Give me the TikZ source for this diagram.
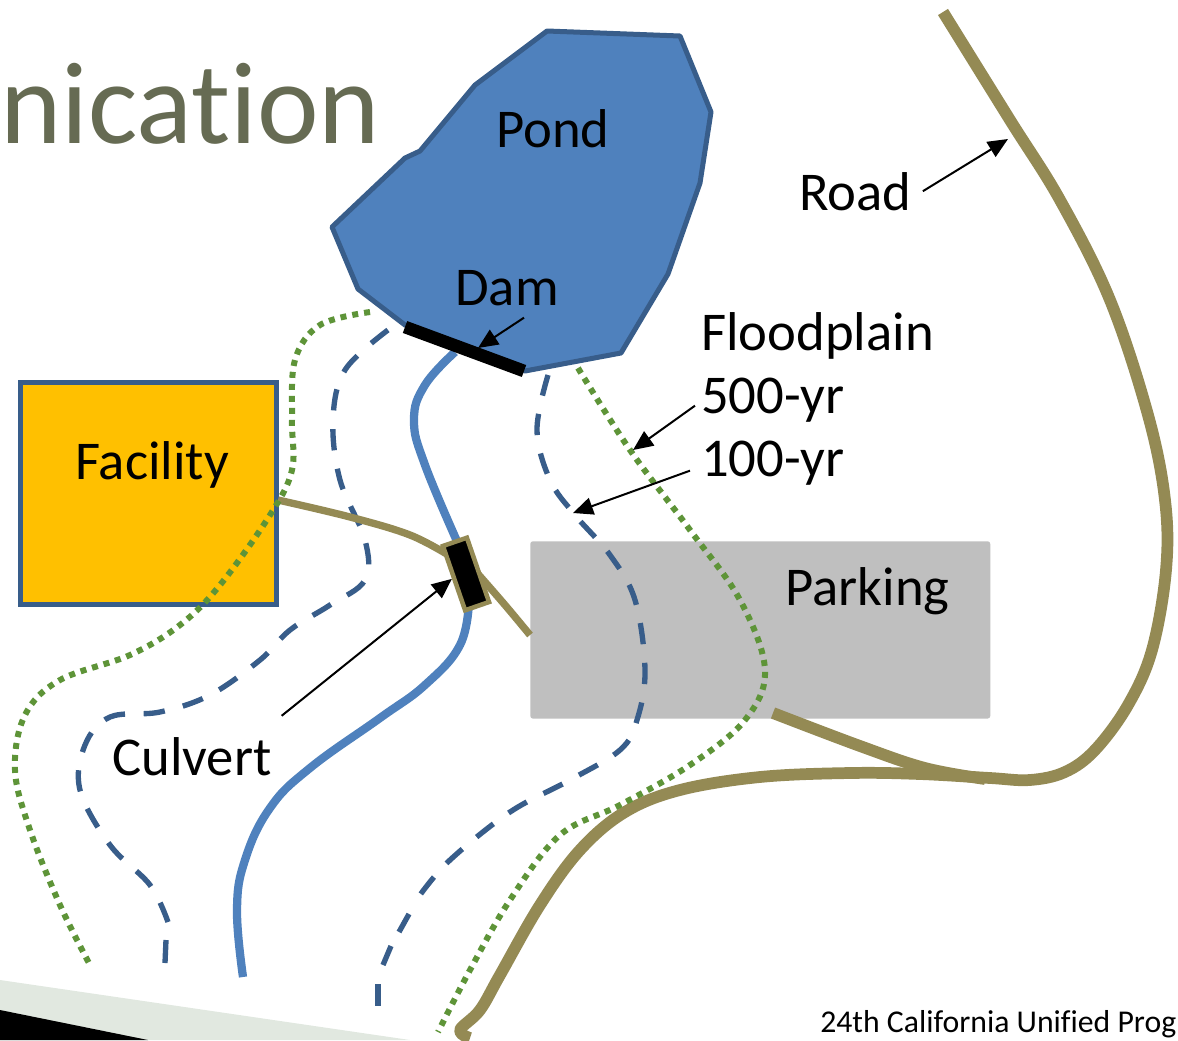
\documentclass[tikz,border=0pt]{standalone}
\usepackage{fontspec}
\setmainfont[Ligatures=NoCommon]{Carlito}
\usetikzlibrary{arrows.meta}
\definecolor{pondblue}{HTML}{4F81BD}
\definecolor{edgeblue}{HTML}{385D8A}
\definecolor{olive}{HTML}{948A54}
\definecolor{dotgreen}{HTML}{5E9438}
\definecolor{amber}{HTML}{FFC000}
\definecolor{parkgrey}{HTML}{BFBFBF}
\definecolor{titlegrey}{HTML}{666B53}
\definecolor{paleband}{HTML}{E1E8E0}
\tikzset{
  x=0.75pt,y=-0.75pt,
  lbl/.style={anchor=base west,inner sep=0pt,font=\fontsize{41}{46}\selectfont,text=black},
  road/.style={draw=olive,line width=8.8pt,line join=round},
  thinroad/.style={draw=olive,line width=5.5pt},
  stream/.style={draw=pondblue,line width=6.2pt},
  fp hundred/.style={draw=edgeblue,line width=4pt,dash pattern=on 16pt off 14pt},
  fp hundred end/.style={draw=edgeblue,line width=4pt},
  fp five/.style={draw=dotgreen,line width=4.5pt,dash pattern=on 4.5pt off 4.5pt},
  pointer/.style={draw=black,line width=1.5pt,-{Stealth[length=15pt,width=13pt,inset=0pt]}}
}
\begin{document}
\begin{tikzpicture}
\useasboundingbox (0,0) rectangle (1178,1040);
\clip (0,0) rectangle (1178,1040);
% slide decoration
\fill[paleband] (0,980) -- (410,1040) -- (0,1040) -- cycle;
\fill[black] (0,1010) -- (148,1040) -- (0,1040) -- cycle;
\node[anchor=base west,inner sep=0pt,text=titlegrey,font=\fontsize{87.5}{96}\selectfont] (title) at (0,143) {nication};
\node[anchor=base west,inner sep=0pt,text=black,font=\fontsize{23.8}{28}\selectfont] (footer) at (820,1032) {24th California Unified Prog};
% areas
\node[draw=edgeblue,fill=amber,line width=3.75pt,minimum width=192pt,minimum height=167pt,inner sep=0pt,anchor=north west] (facility) at (17.5,379.5) {};
\node[fill=parkgrey,rounded corners=2pt,minimum width=345pt,minimum height=133pt,inner sep=0pt,anchor=north west] (parking) at (530,541) {};
\draw[draw=edgeblue,fill=pondblue,line width=3.75pt,line join=round] (547,31) -- (680,36) -- (711,112) -- (700,183) -- (668,274) -- (621,353) -- (525,371) -- (405,325) -- (358,289) -- (332,227) -- (405,158) -- (420,151) -- (475,85) -- cycle;
% stream
\draw[stream] plot[smooth,tension=0.7] coordinates {(455,352) (425,385) (414,420) (425,465) (460,548)};
\draw[stream] plot[smooth,tension=0.7] coordinates {(469,600) (460,645) (425,685) (380,718) (310,768) (270,808) (245,860) (237,910) (243,977)};
% 100-yr
\draw[fp hundred] plot[smooth,tension=0.6] coordinates {(388,330) (345,370) (333,420) (340,480) (365,540) (365,580) (330,605) (290,630) (260,660) (210,695) (160,712) (110,717) (85,745) (80,790) (110,845) (150,885) (168,922)};
\draw[fp hundred end] (166,940) -- (165,963);
\draw[fp hundred] plot[smooth,tension=0.6] coordinates {(548,375) (537,430) (550,480) (575,515) (610,555) (635,600) (645,670) (637,720) (620,750) (570,780) (510,812) (450,860) (420,895)};
\draw[fp hundred end] (409,914) -- (399,932);
\draw[fp hundred end] (391,946) -- (383,965);
\draw[fp hundred end] (378,984) -- (378,1006);
% roads
\draw[thinroad] plot[smooth,tension=0.6] coordinates {(278,500) (350,517) (410,535) (450,556)};
\draw[thinroad] plot[smooth,tension=0.6] coordinates {(478,574) (505,605) (530,635)};
\draw[road] plot[smooth,tension=0.6] coordinates {(943,12) (1010,120) (1060,200) (1110,300) (1148,415) (1165,500) (1166,570) (1152,650) (1128,705) (1095,750) (1065,772) (1030,780) (990,778) (920,774) (850,773) (760,777) (680,790) (625,812) (580,850) (540,905) (500,975) (480,1010) (460,1030) (470,1038)};
\draw[road] plot[smooth,tension=0.6] coordinates {(773,713) (860,746) (925,768) (985,779)};
% 500-yr
\draw[fp five] plot[smooth,tension=0.6] coordinates {(370,312) (320,325) (295,360) (292,420) (292,470) (270,515) (220,585) (180,625) (130,655) (60,680) (25,715) (15,770) (30,830) (60,905) (90,965)};
\draw[fp five] plot[smooth,tension=0.6] coordinates {(578,368) (630,450) (690,530) (740,600) (765,670) (745,720) (690,765) (620,805) (560,835) (510,900) (470,970) (438,1032)};
% dam and culvert
\draw[line width=9.5pt] (405,327) -- (524,371);
\node[draw=olive,fill=black,line width=3.4pt,rotate=19,minimum width=19pt,minimum height=51pt,inner sep=0pt] (culvert) at (466,574) {};
% labels
\node[lbl] (pond) at (496,147) {Pond};
\node[lbl] (dam) at (455,305) {Dam};
\node[lbl] (roadlabel) at (799,210) {Road};
\node[lbl] (floodplain) at (701,350) {Floodplain};
\node[lbl] (fiveh) at (701,413) {500-yr};
\node[lbl] (oneh) at (701,476) {100-yr};
\node[lbl] (facilitylabel) at (75,479) {Facility};
\node[lbl] (parkinglabel) at (785,605) {Parking};
\node[lbl] (culvertlabel) at (112,775) {Culvert};
% pointers
\coordinate (roadtip) at (1008,139);
\coordinate (damtip) at (478,348);
\coordinate (fivetip) at (633,450);
\coordinate (onetip) at (573,513);
\draw[pointer] ([shift={(11,0)}]roadlabel.east) -- (roadtip);
\draw[pointer] ([shift={(17,12)}]dam.south) -- (damtip);
\draw[pointer] ([shift={(-6,6)}]fiveh.west) -- (fivetip);
\draw[pointer] ([shift={(-11,8)}]oneh.west) -- (onetip);
\draw[pointer] ([shift={(10,-21)}]culvertlabel.north east) -- (culvert.west);
\end{tikzpicture}
\end{document}
